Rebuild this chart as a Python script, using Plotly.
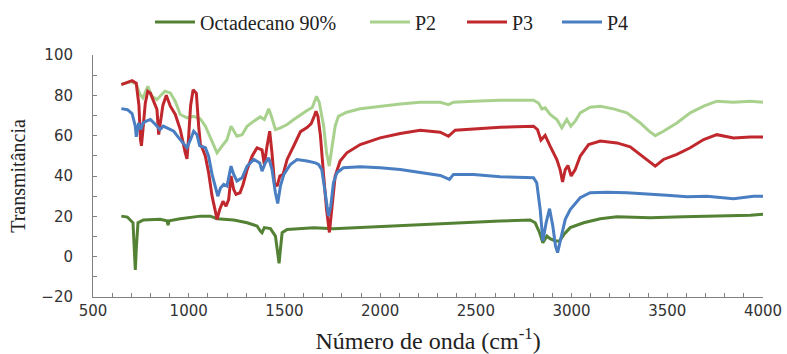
import plotly.graph_objects as go

# FTIR spectra: wavenumber (cm-1) and transmittance for each sample
octa_wn = [648, 680, 709, 716, 721, 727, 735, 763, 850, 886, 892, 898, 956, 1061, 1113,
           1148, 1235, 1305, 1357, 1374, 1383, 1395, 1427, 1453, 1465, 1472, 1479, 1488,
           1514, 1584, 1653, 1756, 1930, 2105, 2279, 2453, 2627, 2784, 2810, 2833, 2850,
           2871, 2888, 2914, 2937, 2961, 2993, 3063, 3150, 3237, 3411, 3585, 3759, 3934, 4000]
octa_t = [20.1, 19.6, 16.8, 5.3, -6.6, 5.3, 16.8, 18.2, 18.5, 17.8, 15.7, 17.8, 18.8, 20.1, 20.1,
          18.8, 18.2, 16.8, 15.2, 12.7, 11.9, 14.4, 13.9, 10.2, 2.0, -3.3, 3.6, 11.9,
          13.5, 13.9, 14.4, 13.9, 14.7, 15.2, 16.0, 16.8, 17.7, 18.2, 16.8, 11.9, 6.9,
          10.2, 8.9, 7.8, 7.8, 11.1, 14.4, 16.8, 18.8, 19.8, 19.3, 19.8, 20.1, 20.5, 21.0]

p2_wn = [650, 700, 726, 745, 761, 786, 808, 834, 850, 876, 904, 930, 956, 991, 1026, 1061,
         1087, 1122, 1148, 1174, 1200, 1221, 1235, 1252, 1279, 1305, 1340, 1374, 1395, 1418,
         1432, 1453, 1479, 1514, 1549, 1584, 1618, 1645, 1668, 1682, 1705, 1720, 1734, 1748,
         1765, 1782, 1826, 1896, 2000, 2105, 2209, 2314, 2357, 2383, 2488, 2627, 2801, 2827,
         2845, 2862, 2888, 2923, 2949, 2975, 2996, 3019, 3045, 3097, 3150, 3219, 3289, 3359,
         3402, 3437, 3480, 3550, 3620, 3690, 3759, 3846, 3934, 4000]
p2_t = [85.5, 86.8, 85.5, 80.5, 78.7, 84.5, 79.5, 77.9, 79.5, 82.0, 81.2, 77.0, 70.5, 68.8, 69.6, 68.3,
        64.7, 57.3, 51.5, 54.8, 58.0, 64.7, 62.2, 59.7, 60.5, 64.7, 67.2, 69.3, 68.0, 73.3,
        69.6, 63.0, 63.9, 65.5, 68.0, 70.5, 72.5, 74.0, 79.5, 76.5, 64.7, 51.5, 44.9, 54.0,
        64.7, 69.6, 71.6, 73.3, 74.6, 75.7, 76.6, 76.6, 75.4, 76.6, 77.1, 77.6, 77.6, 76.2,
        73.3, 73.8, 70.5, 68.0, 63.9, 68.0, 64.7, 67.2, 71.3, 74.1, 74.6, 73.3, 71.3, 66.3,
        62.5, 60.0, 62.2, 66.3, 71.3, 74.6, 77.1, 76.6, 77.1, 76.6]

p3_wn = [648, 680, 704, 726, 740, 748, 753, 760, 773, 786, 800, 817, 834, 843, 850, 865, 883,
         904, 930, 956, 982, 991, 1000, 1010, 1023, 1040, 1052, 1061, 1070, 1087, 1104, 1122,
         1139, 1148, 1162, 1179, 1195, 1209, 1221, 1235, 1247, 1268, 1284, 1305, 1331, 1357,
         1383, 1395, 1409, 1423, 1435, 1448, 1462, 1476, 1493, 1514, 1549, 1584, 1618, 1640,
         1657, 1665, 1675, 1688, 1705, 1720, 1735, 1748, 1765, 1791, 1826, 1896, 2000, 2105,
         2209, 2314, 2357, 2392, 2488, 2627, 2801, 2822, 2840, 2862, 2888, 2923, 2940, 2953,
         2967, 2981, 2998, 3019, 3045, 3089, 3150, 3237, 3306, 3359, 3402, 3437, 3480, 3550,
         3620, 3690, 3759, 3846, 3934, 4000]
p3_t = [85.3, 86.5, 87.3, 86.0, 75.0, 58.0, 55.0, 62.0, 76.0, 82.0, 81.0, 77.0, 73.0, 60.5, 65.0, 75.0, 80.0,
        74.6, 70.5, 63.0, 51.5, 48.5, 60.0, 75.0, 82.8, 81.0, 64.7, 55.6, 54.0, 49.8, 41.6, 30.0,
        22.6, 18.5, 23.4, 27.5, 25.0, 28.4, 40.0, 33.3, 30.9, 31.7, 35.8, 43.2, 49.8, 54.0,
        53.0, 45.7, 54.8, 62.2, 51.5, 36.6, 35.0, 40.0, 40.8, 48.2, 55.0, 62.0, 64.0, 66.0,
        70.0, 72.1, 69.6, 60.0, 40.0, 23.4, 12.0, 23.4, 40.0, 47.4, 51.5, 55.6, 58.9, 61.1,
        62.7, 61.7, 59.7, 62.7, 63.4, 64.2, 64.7, 63.0, 57.8, 60.1, 54.8, 48.2, 43.2, 37.0,
        43.2, 45.2, 40.0, 43.2, 49.8, 55.6, 57.3, 56.4, 54.5, 50.7, 47.4, 44.9, 48.2, 50.7,
        54.0, 58.1, 60.5, 58.9, 59.4, 59.4]

p4_wn = [648, 680, 704, 721, 726, 738, 750, 761, 778, 800, 826, 850, 867, 887, 922, 948, 974,
         991, 1009, 1026, 1043, 1057, 1087, 1104, 1122, 1145, 1152, 1166, 1183, 1200, 1221,
         1235, 1252, 1279, 1305, 1340, 1371, 1383, 1400, 1418, 1435, 1453, 1465, 1479, 1497,
         1531, 1566, 1618, 1662, 1678, 1695, 1713, 1730, 1742, 1756, 1774, 1808, 1896, 2000,
         2105, 2209, 2314, 2362, 2383, 2488, 2627, 2801, 2818, 2836, 2850, 2867, 2885, 2902,
         2916, 2927, 2941, 2967, 2993, 3045, 3097, 3184, 3289, 3393, 3498, 3603, 3707, 3846,
         3951, 4000]
p4_t = [73.4, 72.9, 71.0, 64.7, 59.4, 66.3, 63.0, 66.3, 67.2, 68.0, 65.5, 63.0, 64.7, 63.9, 62.2, 58.9, 55.6,
        54.0, 58.0, 62.2, 60.5, 55.1, 54.0, 49.8, 40.8, 33.3, 30.0, 34.0, 35.8, 35.0, 44.9,
        40.8, 37.5, 39.1, 44.9, 48.2, 46.5, 42.4, 46.5, 49.0, 43.2, 31.7, 26.4, 35.0, 40.8,
        45.7, 48.2, 47.4, 46.5, 45.7, 43.2, 31.7, 20.1, 25.0, 36.6, 41.6, 44.1, 44.6, 44.1,
        43.2, 41.9, 40.3, 38.3, 40.8, 40.8, 39.6, 39.1, 36.6, 23.4, 7.8, 16.8, 23.8, 15.2,
        5.3, 2.0, 7.8, 18.5, 23.4, 29.2, 31.7, 32.0, 31.7, 30.9, 30.4, 29.7, 30.0, 28.7,
        30.0, 30.0]

# name, x, y, colour, width reserved for the legend entry text
series = [
    ("Octadecano 90%", octa_wn, octa_t, "#548235", 160),
    ("P2", p2_wn, p2_t, "#A9D18E", 42),
    ("P3", p3_wn, p3_t, "#C0282D", 40),
    ("P4", p4_wn, p4_t, "#4A7EC2", 30),
]

fig = go.Figure()
for name, wn, t, color, lw in series:
    fig.add_trace(go.Scatter(x=wn, y=t, mode="lines", name=name, legendwidth=lw,
                             line=dict(color=color, width=3)))

serif = "Liberation Serif, Times New Roman, serif"
sans = "DejaVu Sans, sans-serif"
axis_grey = "#808080"

fig.update_layout(
    width=787, height=354,
    margin=dict(l=93, r=24, t=55, b=57, autoexpand=False),
    paper_bgcolor="white", plot_bgcolor="white",
    showlegend=True,
    legend=dict(orientation="h", xref="container", yref="container",
                x=150 / 787, xanchor="left", y=1 - 22 / 354, yanchor="middle",
                font=dict(family=serif, size=20, color="#222"),
                itemwidth=40, bgcolor="rgba(0,0,0,0)"),
    xaxis=dict(range=[500, 4000], dtick=500, tick0=500, showgrid=False, zeroline=False,
               showline=True, linecolor=axis_grey, linewidth=1, automargin=False,
               ticks="inside", ticklen=4, tickcolor=axis_grey,
               minor=dict(dtick=100, ticks="inside", ticklen=4, tickcolor=axis_grey),
               tickfont=dict(family=sans, size=15, color="#333"),
               title=dict(text="Número de onda (cm<sup>-1</sup>)",
                          font=dict(family=serif, size=24, color="#222"), standoff=17)),
    yaxis=dict(range=[-20, 100], dtick=20, showgrid=False, zeroline=False,
               showline=True, linecolor=axis_grey, linewidth=1, automargin=False,
               ticks="inside", ticklen=4, tickcolor=axis_grey,
               minor=dict(dtick=10, ticks="inside", ticklen=4, tickcolor=axis_grey),
               tickfont=dict(family=sans, size=15, color="#333"), ticklabelstandoff=16,
               title=dict(text="Transmitância",
                          font=dict(family=serif, size=20, color="#222"), standoff=10)),
)

fig.write_html("out.html")
